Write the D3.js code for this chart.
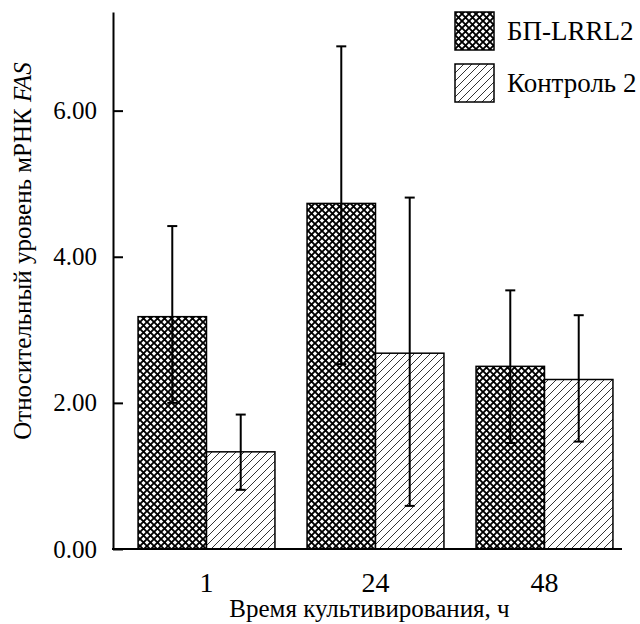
<!DOCTYPE html>
<html>
<head>
    <meta charset="UTF-8">
    <script src="https://d3js.org/d3.v7.min.js"></script>
</head>
<body style="margin:0">
    <script>
        // Data
        const hours = ["1", "24", "48"];
        const series = ["БП-LRRL2", "Контроль 2"];
        const meanBP = [3.18, 4.73, 2.50];
        const lowBP = [2.00, 2.53, 1.45];
        const highBP = [4.42, 6.88, 3.54];
        const meanCtrl = [1.33, 2.68, 2.32];
        const lowCtrl = [0.81, 0.59, 1.47];
        const highCtrl = [1.84, 4.81, 3.20];
        const yTicks = [0, 2, 4, 6];

        const rows = [];
        hours.forEach((h, i) => {
            rows.push({ hour: h, s: series[0], v: meanBP[i], lo: lowBP[i], hi: highBP[i] });
            rows.push({ hour: h, s: series[1], v: meanCtrl[i], lo: lowCtrl[i], hi: highCtrl[i] });
        });

        const W = 640, H = 624;
        const axisX = 113, axisRight = 622;
        const FONT = "Times New Roman";

        const svg = d3.select("body").append("svg")
            .attr("width", W)
            .attr("height", H);

        // Patterns
        const defs = svg.append("defs");
        const cross = defs.append("pattern")
            .attr("id", "cross")
            .attr("patternUnits", "userSpaceOnUse")
            .attr("width", 7).attr("height", 7);
        cross.append("rect").attr("width", 7).attr("height", 7).attr("fill", "#fff");
        cross.append("path")
            .attr("d", "M-1,-1L8,8M8,-1L-1,8")
            .attr("stroke", "#000")
            .attr("stroke-width", 1.9);

        const diag = defs.append("pattern")
            .attr("id", "diag")
            .attr("patternUnits", "userSpaceOnUse")
            .attr("width", 8).attr("height", 8);
        diag.append("rect").attr("width", 8).attr("height", 8).attr("fill", "#fff");
        diag.append("path")
            .attr("d", "M0,8L8,0M-2,2L2,-2M6,10L10,6")
            .attr("stroke", "#333")
            .attr("stroke-width", 1);

        const fills = { "БП-LRRL2": "url(#cross)", "Контроль 2": "url(#diag)" };

        // Scales
        const y = d3.scaleLinear().domain([0, 7.35]).range([549, 12]);
        const x0 = d3.scaleBand().domain(hours).range([122, 629])
            .paddingInner(0.19).paddingOuter(0.095);
        const x1 = d3.scaleBand().domain(series).range([0, x0.bandwidth()]);

        // Bars
        svg.append("g").selectAll("rect")
            .data(rows)
            .join("rect")
            .attr("x", d => x0(d.hour) + x1(d.s))
            .attr("y", d => y(d.v))
            .attr("width", x1.bandwidth())
            .attr("height", d => y(0) - y(d.v))
            .attr("fill", d => fills[d.s])
            .attr("stroke", "#000")
            .attr("stroke-width", 1.5);

        // Error bars
        const err = svg.append("g").attr("stroke", "#000").attr("stroke-width", 2);
        rows.forEach(d => {
            const cx = x0(d.hour) + x1(d.s) + x1.bandwidth() / 2;
            err.append("line").attr("x1", cx).attr("x2", cx).attr("y1", y(d.lo)).attr("y2", y(d.hi));
            err.append("line").attr("x1", cx - 5).attr("x2", cx + 5).attr("y1", y(d.hi)).attr("y2", y(d.hi));
            err.append("line").attr("x1", cx - 5).attr("x2", cx + 5).attr("y1", y(d.lo)).attr("y2", y(d.lo));
        });

        // Y axis: ticks pointing inward, labels with two decimals
        const yAxis = svg.append("g")
            .attr("transform", `translate(${axisX},0)`)
            .call(d3.axisLeft(y).tickValues(yTicks).tickFormat(d3.format(".2f"))
                .tickSizeInner(-10).tickSizeOuter(0).tickPadding(16));
        yAxis.attr("font-family", null).attr("font-size", null);
        yAxis.select(".domain").attr("stroke-width", 2);
        yAxis.selectAll(".tick line").attr("stroke-width", 2);
        yAxis.selectAll("text").attr("font-size", 25);

        // X axis: labels only, baseline drawn across the plot
        const xAxis = svg.append("g")
            .attr("transform", "translate(0,549)")
            .call(d3.axisBottom(x0).tickSize(0).tickPadding(23));
        xAxis.attr("font-family", null).attr("font-size", null);
        xAxis.select(".domain").remove();
        xAxis.selectAll("text").attr("font-size", 28);
        svg.append("line")
            .attr("x1", axisX - 1).attr("x2", axisRight)
            .attr("y1", 549).attr("y2", 549)
            .attr("stroke", "#000").attr("stroke-width", 2);

        // Axis titles
        svg.append("text")
            .attr("x", (axisX + axisRight) / 2 + 2)
            .attr("y", 617)
            .attr("text-anchor", "middle")
            .attr("font-size", 25)
            .text("Время культивирования, ч");

        const yt = svg.append("text")
            .attr("transform", "translate(31,251) rotate(-90)")
            .attr("text-anchor", "middle")
            .attr("font-size", 25);
        yt.append("tspan").text("Относительный уровень мРНК ");
        yt.append("tspan").attr("font-style", "italic").text("FAS");

        // Legend
        series.forEach((s, i) => {
            const gy = 12 + i * 52;
            svg.append("rect")
                .attr("x", 455).attr("y", gy)
                .attr("width", 39).attr("height", 38)
                .attr("fill", fills[s])
                .attr("stroke", "#000")
                .attr("stroke-width", 1.5);
            svg.append("text")
                .attr("x", 507).attr("y", gy + 19)
                .attr("dy", "0.35em")
                .attr("font-size", 27)
                .text(s);
        });

        svg.selectAll("text")
            .attr("font-family", FONT)
            .attr("fill", "#000");
    </script>
</body>
</html>
